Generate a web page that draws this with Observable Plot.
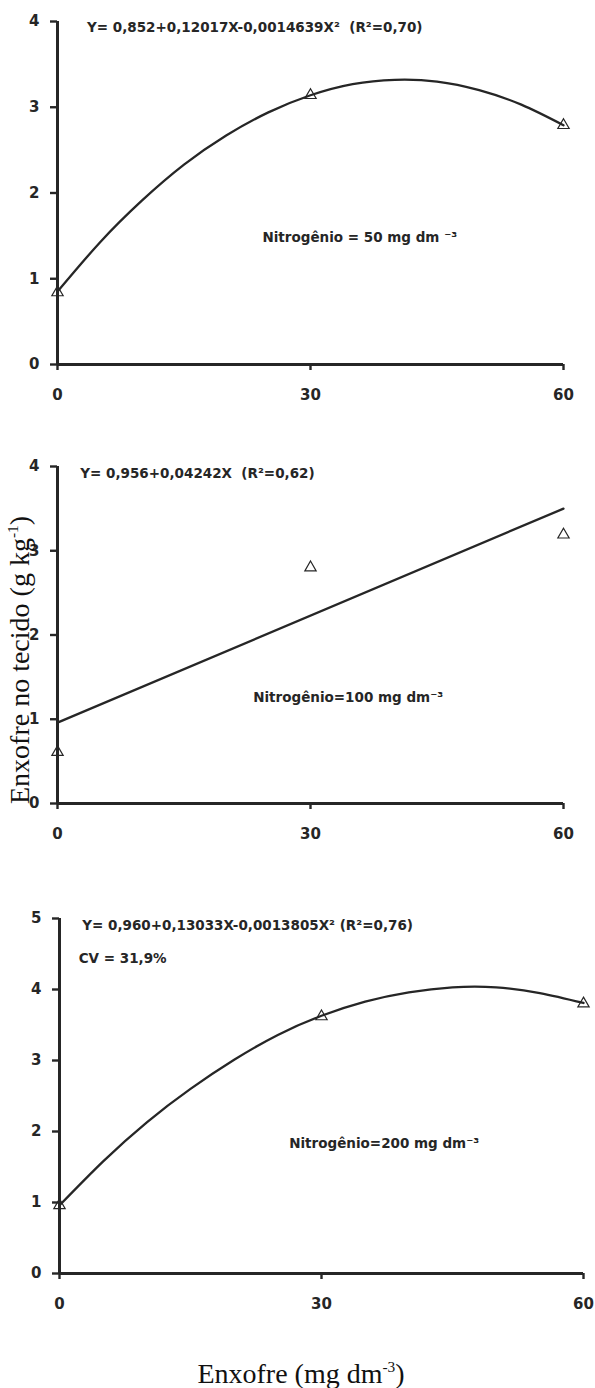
<!DOCTYPE html>
<html>
<head>
<meta charset="utf-8">
<script src="https://cdn.jsdelivr.net/npm/d3@7"></script>
<script src="https://cdn.jsdelivr.net/npm/@observablehq/plot@0.6"></script>
<style>
  html, body { margin: 0; padding: 0; background: #fff; }
  #chart { position: relative; width: 595px; height: 1388px; overflow: hidden; background: #fff; }
  .panel { position: absolute; left: 0; }
  .serif { position: absolute; font-family: "Liberation Serif", "Times New Roman", serif; font-size: 28px; line-height: 1; color: #111; white-space: nowrap; }
  .serif sup { font-size: 0.55em; vertical-align: 0.7em; line-height: 0; }
</style>
</head>
<body>
<div id="chart"></div>
<script>
// ---- data ----
const doses = [0, 30, 60];                 // Enxofre applied, mg dm-3
const xTicks = [0, 30, 60];
const yTicks4 = [0, 1, 2, 3, 4];
const yTicks5 = [0, 1, 2, 3, 4, 5];

// observed means (triangles)
const obs50  = [0.84, 3.14, 2.79];
const obs100 = [0.61, 2.80, 3.19];
const obs200 = [0.96, 3.62, 3.80];

// fitted curves
const curveX = [0, 5, 10, 15, 20, 25, 30, 35, 40, 45, 50, 55, 60];
const fit50  = [0.85, 1.42, 1.91, 2.33, 2.67, 2.94, 3.14, 3.27, 3.32, 3.30, 3.20, 3.03, 2.79];
const lineX100 = [0, 60];
const fit100 = [0.96, 3.50];
const fit200 = [0.96, 1.58, 2.13, 2.60, 3.01, 3.36, 3.63, 3.83, 3.96, 4.03, 4.03, 3.95, 3.81];

// texts
const eq50  = "Y= 0,852+0,12017X-0,0014639X²  (R²=0,70)";
const eq100 = "Y= 0,956+0,04242X  (R²=0,62)";
const eq200 = "Y= 0,960+0,13033X-0,0013805X² (R²=0,76)";
const cv200 = "CV = 31,9%";
const note50  = "Nitrogênio = 50 mg dm ⁻³";
const note100 = "Nitrogênio=100 mg dm⁻³";
const note200 = "Nitrogênio=200 mg dm⁻³";
const yTitleHTML = "Enxofre no tecido (g kg<sup>-1</sup>)";
const xTitleHTML = "Enxofre (mg dm<sup>-3</sup>)";

// ---- drawing ----
const ink = "#262626";
const sans = "DejaVu Sans, sans-serif";

function panel(cfg) {
  const obsData = doses.map((x, i) => ({x, y: cfg.obs[i]}));
  const fitData = cfg.fitX.map((x, i) => ({x, y: cfg.fitY[i]}));
  const svg = Plot.plot({
    width: 595,
    height: cfg.height,
    marginTop: cfg.mt,
    marginBottom: cfg.mb,
    marginLeft: cfg.ml,
    marginRight: cfg.mr,
    style: {fontFamily: sans, fontSize: "15px", fontWeight: "bold", color: ink, background: "white"},
    x: {domain: [0, 60], ticks: xTicks},
    y: {domain: [0, cfg.yMax], ticks: cfg.yTicks},
    marks: [
      Plot.axisX(xTicks, {tickSize: 6, tickPadding: 19, strokeWidth: 2.4, label: null, fill: ink, tickFormat: d => String(d)}),
      Plot.axisY(cfg.yTicks, {tickSize: 7, tickPadding: 11, strokeWidth: 2.4, label: null, fill: ink, tickFormat: d => String(d)}),
      Plot.ruleX([0], {stroke: ink, strokeWidth: 3}),
      Plot.ruleY([0], {stroke: ink, strokeWidth: 3}),
      Plot.line(fitData, {x: "x", y: "y", curve: cfg.curve, stroke: ink, strokeWidth: 2.3}),
      Plot.dot(obsData, {x: "x", y: "y", symbol: "triangle", r: 4.2, stroke: ink, strokeWidth: 1.2, fill: "none"}),
      ...cfg.notes.map(n => Plot.text([n.text], {
        x: n.x, y: n.y, text: d => d, textAnchor: "start", lineAnchor: "middle",
        fontSize: 13.5, fontWeight: "bold", fontFamily: sans, fill: ink
      }))
    ]
  });
  const div = document.createElement("div");
  div.className = "panel";
  div.style.top = cfg.top + "px";
  div.appendChild(svg);
  return div;
}

const chart = document.getElementById("chart");

chart.appendChild(panel({
  top: 0, height: 420, mt: 21, mb: 56, ml: 57, mr: 32,
  yMax: 4, yTicks: yTicks4, obs: obs50, fitX: curveX, fitY: fit50, curve: "natural",
  notes: [
    {text: eq50, x: 3.5, y: 3.93},
    {text: note50, x: 24.3, y: 1.48}
  ]
}));

chart.appendChild(panel({
  top: 440, height: 410, mt: 26, mb: 47, ml: 57, mr: 32,
  yMax: 4, yTicks: yTicks4, obs: obs100, fitX: lineX100, fitY: fit100, curve: "linear",
  notes: [
    {text: eq100, x: 2.7, y: 3.91},
    {text: note100, x: 23.2, y: 1.26}
  ]
}));

chart.appendChild(panel({
  top: 880, height: 440, mt: 38, mb: 47, ml: 59, mr: 12,
  yMax: 5, yTicks: yTicks5, obs: obs200, fitX: curveX, fitY: fit200, curve: "natural",
  notes: [
    {text: eq200, x: 2.6, y: 4.90},
    {text: cv200, x: 2.2, y: 4.44},
    {text: note200, x: 26.3, y: 1.83}
  ]
}));

// axis titles (serif, as in the figure)
const yTitle = document.createElement("div");
yTitle.className = "serif";
yTitle.innerHTML = yTitleHTML;
yTitle.style.left = "20px";
yTitle.style.top = "660px";
yTitle.style.transform = "translate(-50%, -50%) rotate(-90deg)";
chart.appendChild(yTitle);

const xTitle = document.createElement("div");
xTitle.className = "serif";
xTitle.innerHTML = xTitleHTML;
xTitle.style.left = "301px";
xTitle.style.top = "1360px";
xTitle.style.transform = "translateX(-50%)";
chart.appendChild(xTitle);
</script>
</body>
</html>
